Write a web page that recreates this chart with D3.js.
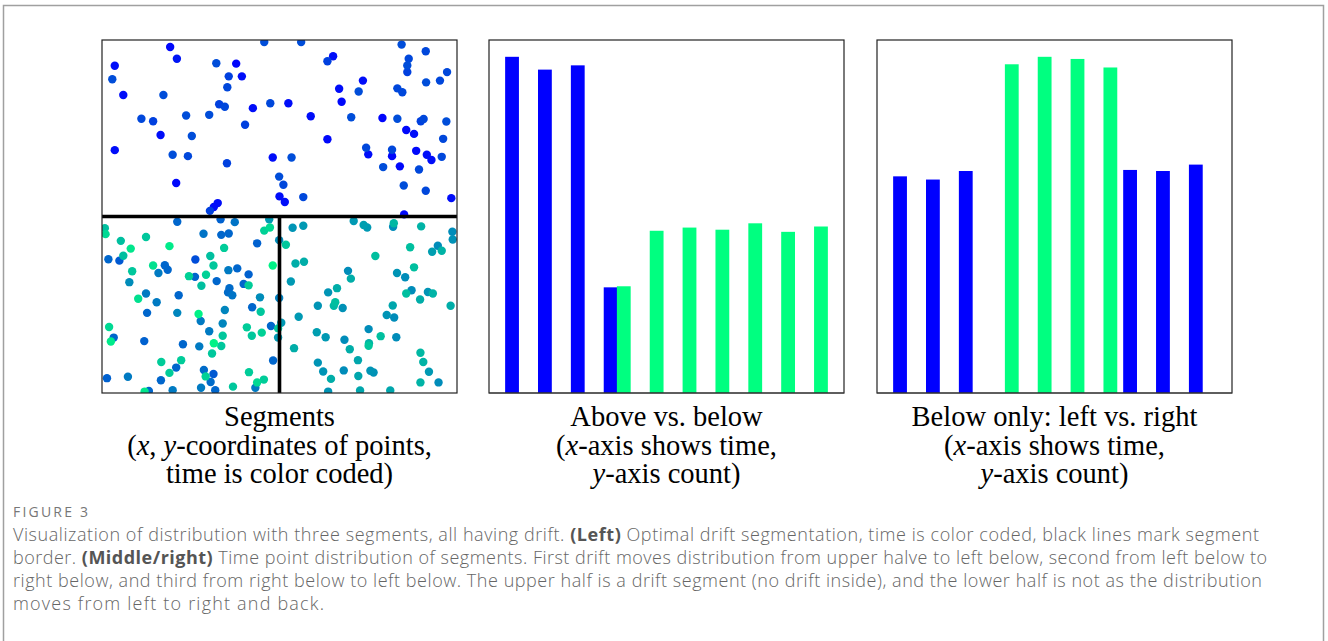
<!DOCTYPE html>
<html>
<head>
<meta charset="utf-8">
<script src="https://cdn.jsdelivr.net/npm/d3@7"></script>
<style>
  html, body { margin: 0; padding: 0; background: #fff; }
  svg { display: block; }
</style>
</head>
<body>
<svg id="fig"></svg>
<script>
// ---- data ----
// scatter points: [x, y, time] with x, y in [0, 1] and time in [0, 1]
const upperPoints = [
  [0.192,0.980,0.03],[0.457,0.994,0.30],[0.036,0.927,0.05],[0.211,0.947,0.08],[0.322,0.934,0.30],
  [0.378,0.933,0.02],[0.029,0.889,0.30],[0.357,0.897,0.25],[0.394,0.897,0.05],[0.060,0.844,0.05],
  [0.173,0.844,0.30],[0.353,0.866,0.28],[0.330,0.818,0.25],[0.346,0.811,0.28],[0.474,0.821,0.28],
  [0.425,0.807,0.05],[0.111,0.777,0.28],[0.144,0.770,0.25],[0.237,0.786,0.30],[0.302,0.788,0.30],
  [0.403,0.760,0.25],[0.165,0.731,0.05],[0.253,0.728,0.30],[0.036,0.688,0.05],[0.199,0.675,0.30],
  [0.242,0.671,0.28],[0.352,0.651,0.25],[0.481,0.667,0.05],[0.209,0.595,0.03],[0.499,0.613,0.30],
  [0.500,0.557,0.05],[0.326,0.538,0.05],[0.304,0.516,0.25],[0.315,0.527,0.05],
  [0.561,0.994,0.30],[0.844,0.987,0.30],[0.912,0.968,0.28],[0.651,0.954,0.05],[0.635,0.940,0.25],
  [0.864,0.947,0.28],[0.860,0.928,0.30],[0.860,0.909,0.25],[0.972,0.909,0.28],[0.735,0.885,0.05],
  [0.913,0.880,0.30],[0.952,0.885,0.28],[0.668,0.862,0.05],[0.723,0.854,0.30],[0.832,0.863,0.28],
  [0.846,0.852,0.28],[0.525,0.821,0.05],[0.675,0.825,0.03],[0.588,0.784,0.05],[0.702,0.781,0.30],
  [0.790,0.779,0.02],[0.832,0.777,0.30],[0.898,0.770,0.25],[0.906,0.776,0.28],[0.970,0.769,0.30],
  [0.857,0.745,0.03],[0.879,0.734,0.05],[0.635,0.719,0.03],[0.961,0.720,0.28],[0.744,0.695,0.28],
  [0.750,0.676,0.05],[0.817,0.689,0.28],[0.817,0.671,0.03],[0.885,0.686,0.03],[0.915,0.675,0.05],
  [0.928,0.660,0.05],[0.957,0.669,0.28],[0.534,0.667,0.30],[0.792,0.640,0.30],[0.839,0.642,0.03],
  [0.893,0.633,0.28],[0.511,0.590,0.28],[0.850,0.588,0.30],[0.912,0.573,0.28],[0.515,0.541,0.05],
  [0.567,0.555,0.28],[0.984,0.552,0.05],[0.851,0.506,0.03]
];

const lowerLeftPoints = [
  [0.008,0.467,0.75],[0.010,0.450,0.85],[0.212,0.485,0.40],[0.334,0.492,0.38],[0.374,0.484,0.45],
  [0.457,0.460,0.82],[0.473,0.469,0.85],[0.471,0.492,0.60],[0.053,0.431,0.75],[0.081,0.409,0.90],
  [0.124,0.442,0.78],[0.190,0.416,0.92],[0.286,0.451,0.45],[0.336,0.448,0.40],[0.357,0.452,0.40],
  [0.437,0.424,0.38],[0.499,0.433,0.55],[0.018,0.379,0.40],[0.049,0.375,0.35],[0.060,0.389,0.75],
  [0.085,0.345,0.78],[0.144,0.361,0.88],[0.159,0.340,0.48],[0.177,0.362,0.40],[0.185,0.349,0.40],
  [0.263,0.378,0.30],[0.305,0.388,0.75],[0.314,0.361,0.78],[0.344,0.411,0.80],[0.356,0.348,0.48],
  [0.381,0.353,0.40],[0.413,0.336,0.38],[0.481,0.361,0.95],[0.077,0.314,0.55],[0.245,0.331,0.82],
  [0.262,0.329,0.40],[0.293,0.335,0.82],[0.280,0.304,0.75],[0.323,0.317,0.40],[0.359,0.297,0.42],
  [0.355,0.285,0.42],[0.367,0.277,0.45],[0.399,0.309,0.40],[0.413,0.305,0.80],[0.124,0.282,0.48],
  [0.102,0.267,0.88],[0.154,0.257,0.48],[0.216,0.277,0.40],[0.445,0.271,0.55],[0.499,0.269,0.50],
  [0.127,0.227,0.40],[0.212,0.227,0.52],[0.272,0.224,0.95],[0.278,0.204,0.48],[0.346,0.235,0.52],
  [0.423,0.243,0.40],[0.447,0.230,0.78],[0.340,0.197,0.52],[0.020,0.187,0.85],[0.033,0.157,0.40],
  [0.025,0.146,0.92],[0.119,0.147,0.38],[0.302,0.175,0.48],[0.340,0.162,0.78],[0.408,0.186,0.80],
  [0.422,0.162,0.78],[0.450,0.171,0.82],[0.476,0.190,0.40],[0.496,0.183,0.78],[0.496,0.157,0.60],
  [0.228,0.138,0.40],[0.274,0.132,0.48],[0.315,0.141,0.95],[0.336,0.133,0.78],[0.310,0.112,0.78],
  [0.167,0.088,0.80],[0.223,0.093,0.80],[0.209,0.072,0.40],[0.190,0.057,0.80],[0.482,0.092,0.40],
  [0.287,0.065,0.42],[0.314,0.054,0.35],[0.292,0.047,0.82],[0.414,0.059,0.80],[0.014,0.042,0.38],
  [0.073,0.046,0.48],[0.166,0.036,0.40],[0.306,0.031,0.42],[0.437,0.030,0.85],[0.456,0.038,0.80],
  [0.120,0.004,0.90],[0.132,0.006,0.40],[0.199,0.008,0.48],[0.279,0.015,0.48],[0.319,0.008,0.40],
  [0.369,0.018,0.78],[0.432,0.015,0.48]
];

const lowerRightPoints = [
  [0.537,0.468,0.58],[0.567,0.474,0.60],[0.709,0.487,0.60],[0.737,0.476,0.62],[0.747,0.469,0.60],
  [0.822,0.481,0.72],[0.820,0.471,0.55],[0.899,0.472,0.70],[0.987,0.457,0.55],[0.988,0.435,0.57],
  [0.518,0.420,0.78],[0.868,0.413,0.75],[0.930,0.400,0.62],[0.946,0.417,0.55],[0.957,0.403,0.70],
  [0.770,0.388,0.75],[0.545,0.367,0.68],[0.569,0.372,0.68],[0.879,0.356,0.75],[0.693,0.346,0.55],
  [0.701,0.324,0.68],[0.831,0.340,0.58],[0.854,0.328,0.55],[0.532,0.316,0.60],[0.662,0.297,0.68],
  [0.637,0.285,0.58],[0.872,0.291,0.55],[0.857,0.282,0.75],[0.918,0.286,0.58],[0.932,0.282,0.70],
  [0.896,0.265,0.68],[0.608,0.247,0.58],[0.657,0.257,0.75],[0.653,0.247,0.72],[0.678,0.241,0.57],
  [0.819,0.248,0.65],[0.982,0.247,0.68],[0.554,0.216,0.60],[0.802,0.221,0.58],[0.823,0.214,0.55],
  [0.505,0.199,0.60],[0.751,0.181,0.55],[0.605,0.172,0.62],[0.630,0.158,0.60],[0.683,0.151,0.55],
  [0.785,0.161,0.75],[0.829,0.158,0.55],[0.541,0.127,0.68],[0.698,0.124,0.68],[0.752,0.141,0.70],
  [0.751,0.134,0.78],[0.897,0.114,0.72],[0.608,0.086,0.58],[0.721,0.093,0.65],[0.905,0.088,0.70],
  [0.623,0.061,0.58],[0.681,0.064,0.55],[0.756,0.063,0.58],[0.765,0.058,0.57],[0.921,0.060,0.60],
  [0.645,0.040,0.68],[0.722,0.048,0.65],[0.897,0.030,0.70],[0.948,0.030,0.55],[0.637,0.004,0.58],
  [0.727,0.007,0.65],[0.812,0.007,0.65]
];

// segment borders (data coords): [x1, y1, x2, y2]
const segmentBorders = [[0, 0.5, 1, 0.5], [0.5, 0, 0.5, 0.5]];

// time-binned counts
const timeSteps = [0, 1, 2, 3, 4, 5, 6, 7, 8, 9];
const aboveCounts = [31.5, 30.3, 30.7, 9.9, 0, 0, 0, 0, 0, 0];
const belowCounts = [0, 0, 0, 10.0, 15.2, 15.5, 15.3, 15.9, 15.1, 15.6];
const leftCounts  = [20.3, 20.0, 20.8, 0, 0, 0, 0, 20.9, 20.8, 21.4];
const rightCounts = [0, 0, 0, 30.8, 31.5, 31.3, 30.5, 0, 0, 0];

const titles = [
  [["Segments"], ["(", ["x"], ", ", ["y"], "-coordinates of points,"], ["time is color coded)"]],
  [["Above vs. below"], ["(", ["x"], "-axis shows time,"], [["y"], "-axis count)"]],
  [["Below only: left vs. right"], ["(", ["x"], "-axis shows time,"], [["y"], "-axis count)"]]
];

const captionLabel = "FIGURE 3";
const captionLines = [
  ["Visualization of distribution with three segments, all having drift. ", ["(Left)"], " Optimal drift segmentation, time is color coded, black lines mark segment"],
  ["border. ", ["(Middle/right)"], " Time point distribution of segments. First drift moves distribution from upper halve to left below, second from left below to"],
  ["right below, and third from right below to left below. The upper half is a drift segment (no drift inside), and the lower half is not as the distribution"],
  ["moves from left to right and back."]
];
// measured line lengths in the reference, px
const captionWidths = [1246, 1254, 1249, 311];

// ---- layout ----
const W = 1328, H = 641;
const panelW = 355, panelH = 353, panelTop = 40;
const panelLefts = [102, 489, 877];
const blueColor = "#0000ff", greenColor = "#00ff80";
const barWidth = 0.42, barShift = 0.2;

const winter = t => d3.rgb(0, Math.round(255 * t), Math.round(255 * (1 - t / 2))).toString();

const svg = d3.select("#fig").attr("width", W).attr("height", H);

// card border
svg.append("path")
  .attr("d", `M3.5,${H} V5.5 H1323.5 V${H}`)
  .attr("fill", "none")
  .attr("stroke", "#a0a0a0")
  .attr("stroke-width", 1.5);

// ---- scatter panel ----
const sx = d3.scaleLinear().domain([0, 1]).range([0, panelW]);
const sy = d3.scaleLinear().domain([0, 1]).range([panelH, 0]);

const scat = svg.append("g").attr("transform", `translate(${panelLefts[0]},${panelTop})`);

scat.append("clipPath").attr("id", "clipScatter")
  .append("rect").attr("width", panelW).attr("height", panelH);

const allPoints = upperPoints.concat(lowerLeftPoints, lowerRightPoints)
  .slice().sort((a, b) => a[2] - b[2]);

scat.append("g")
  .attr("clip-path", "url(#clipScatter)")
  .selectAll("circle")
  .data(allPoints)
  .join("circle")
    .attr("cx", d => sx(d[0]))
    .attr("cy", d => sy(d[1]))
    .attr("r", 4.2)
    .attr("fill", d => winter(d[2]));

scat.append("g")
  .selectAll("line")
  .data(segmentBorders)
  .join("line")
    .attr("x1", d => sx(d[0])).attr("y1", d => sy(d[1]))
    .attr("x2", d => sx(d[2])).attr("y2", d => sy(d[3]))
    .attr("stroke", "#000")
    .attr("stroke-width", 3.6);

scat.append("rect")
  .attr("width", panelW).attr("height", panelH)
  .attr("fill", "none").attr("stroke", "#222").attr("stroke-width", 1.2);

// ---- bar panels ----
function drawBars(left, firstCounts, secondCounts) {
  const g = svg.append("g").attr("transform", `translate(${left},${panelTop})`);

  const lo = d3.min(timeSteps) - barShift - barWidth / 2;
  const hi = d3.max(timeSteps) + barShift + barWidth / 2;
  const pad = 0.05 * (hi - lo);
  const x = d3.scaleLinear().domain([lo - pad, hi + pad]).range([0, panelW]);

  const maxCount = d3.max(firstCounts.concat(secondCounts));
  const y = d3.scaleLinear().domain([0, maxCount * 1.05]).range([panelH, 0]);

  const series = [
    { color: blueColor, shift: -barShift, values: firstCounts },
    { color: greenColor, shift: barShift, values: secondCounts }
  ];

  g.selectAll("g.series")
    .data(series)
    .join("g")
      .attr("class", "series")
      .attr("fill", s => s.color)
    .selectAll("rect")
    .data(s => timeSteps.map((t, i) => ({ t: t + s.shift, v: s.values[i] })).filter(d => d.v > 0))
    .join("rect")
      .attr("x", d => x(d.t - barWidth / 2))
      .attr("width", d => x(d.t + barWidth / 2) - x(d.t - barWidth / 2))
      .attr("y", d => y(d.v))
      .attr("height", d => y(0) - y(d.v));

  g.append("rect")
    .attr("width", panelW).attr("height", panelH)
    .attr("fill", "none").attr("stroke", "#222").attr("stroke-width", 1.2);

  // bottom spine, drawn over the bars
  g.append("line")
    .attr("x1", 0).attr("x2", panelW)
    .attr("y1", y(0)).attr("y2", y(0))
    .attr("stroke", "rgba(60,60,60,0.6)")
    .attr("stroke-width", 1.6);
}

drawBars(panelLefts[1], aboveCounts, belowCounts);
drawBars(panelLefts[2], leftCounts, rightCounts);

// ---- subplot titles ----
const titleBaselines = [426, 455, 483];
titles.forEach((lines, p) => {
  const cx = panelLefts[p] + panelW / 2;
  lines.forEach((parts, li) => {
    const t = svg.append("text")
      .attr("x", cx).attr("y", titleBaselines[li])
      .attr("text-anchor", "middle")
      .attr("font-family", "'Liberation Serif', 'Times New Roman', serif")
      .attr("font-size", 28.5)
      .attr("fill", "#000");
    parts.forEach(part => {
      if (Array.isArray(part)) {
        t.append("tspan").attr("font-style", "italic").text(part[0]);
      } else {
        t.append("tspan").text(part);
      }
    });
  });
});

// ---- caption ----
svg.append("text")
  .attr("x", 13).attr("y", 517)
  .attr("font-family", "'Open Sans', sans-serif")
  .attr("font-size", 14)
  .attr("fill", "#777")
  .attr("textLength", 75)
  .attr("lengthAdjust", "spacing")
  .text(captionLabel);

const captionBaselines = [541, 564, 587, 610];
captionLines.forEach((parts, i) => {
  const t = svg.append("text")
    .attr("x", 13).attr("y", captionBaselines[i])
    .attr("font-family", "'Open Sans', sans-serif")
    .attr("font-size", 18)
    .attr("font-weight", 300)
    .attr("fill", "#666")
    .attr("textLength", captionWidths[i])
    .attr("lengthAdjust", "spacing");
  parts.forEach(part => {
    if (Array.isArray(part)) {
      t.append("tspan").attr("font-weight", 700).attr("fill", "#555").text(part[0]);
    } else {
      t.append("tspan").text(part);
    }
  });
});
</script>
</body>
</html>
